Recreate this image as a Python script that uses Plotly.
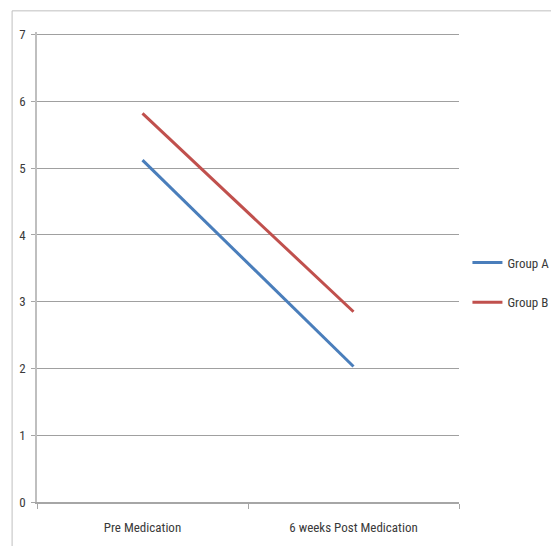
import plotly.graph_objects as go

categories = ["Pre Medication", "6 weeks Post Medication"]
group_a = [5.12, 2.03]
group_b = [5.82, 2.85]
y_ticks = [0, 1, 2, 3, 4, 5, 6, 7]

fig = go.Figure()
fig.add_trace(go.Scatter(x=categories, y=group_a, mode="lines", name="Group A",
                         legendgroup="a", line=dict(color="#4A7EBB", width=3)))
fig.add_trace(go.Scatter(x=categories, y=group_b, mode="lines", name="Group B",
                         legendgroup="b", line=dict(color="#C0504D", width=3)))

font_family = "Liberation Sans Narrow, Roboto Condensed, Arial Narrow, sans-serif"

fig.update_layout(
    width=551, height=546,
    margin=dict(l=37, r=92, t=32, b=44, autoexpand=False),
    paper_bgcolor="white", plot_bgcolor="white",
    font=dict(family=font_family, size=13, color="#3A3A3A"),
    showlegend=True,
    legend=dict(x=1.02, y=0.467, xanchor="left", yanchor="middle",
                font=dict(size=13, color="#3A3A3A"), itemwidth=30,
                tracegroupgap=20, bgcolor="rgba(0,0,0,0)"),
    xaxis=dict(type="category", range=[-0.5, 1.5], showgrid=False,
               showline=True, linecolor="#A6A6A6", linewidth=1.5,
               ticks="outside", tickson="boundaries", ticklen=5, tickcolor="#A6A6A6",
               ticklabelstandoff=13,
               tickfont=dict(size=13, color="#3A3A3A"), zeroline=False, fixedrange=True),
    yaxis=dict(range=[0, 7.04], tickvals=y_ticks, showgrid=True, gridcolor="#A0A0A0",
               gridwidth=1.2, showline=True, linecolor="#BFBFBF", linewidth=1.5,
               ticks="outside", ticklen=4, tickcolor="#A6A6A6",
               ticklabelstandoff=3,
               tickfont=dict(size=13, color="#3A3A3A"), zeroline=False, fixedrange=True),
    shapes=[dict(type="rect", xref="paper", yref="paper",
                 x0=-0.059, x1=1.5, y0=-0.3, y1=1.045,
                 line=dict(color="#BFBFBF", width=1), layer="below")],
)

fig.write_html("out.html", config={"displayModeBar": False},
               post_script="document.body.style.margin='0';document.body.style.overflow='hidden';")
